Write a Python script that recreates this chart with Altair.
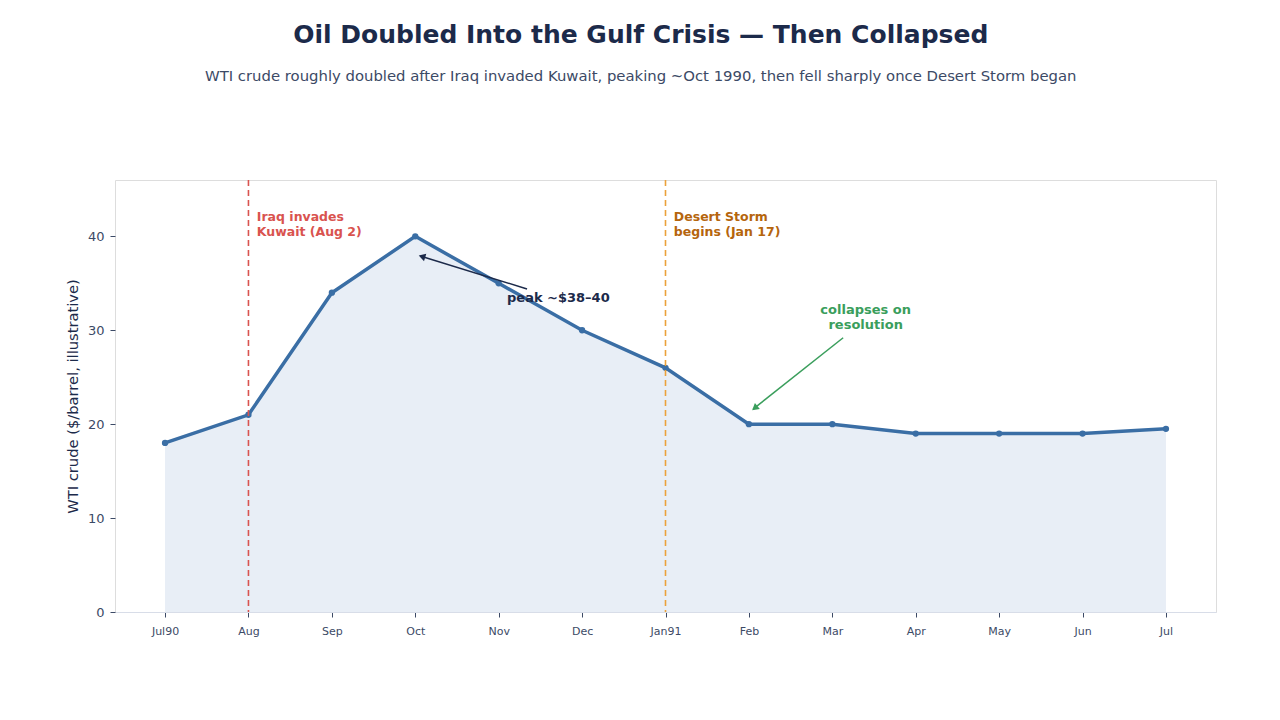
import altair as alt
import pandas as pd

months = ["Jul90", "Aug", "Sep", "Oct", "Nov", "Dec", "Jan91", "Feb", "Mar", "Apr", "May", "Jun", "Jul"]
prices = [18, 21, 34, 40, 35, 30, 26, 20, 20, 19, 19, 19, 19.5]

events_x = [1, 6]
events_color = ["#d9534f", "#eba13a"]
event_labels = ["Iraq invades\nKuwait (Aug 2)", "Desert Storm\nbegins (Jan 17)"]
event_label_colors = ["#d9534f", "#b5650d"]

peak_text = "peak ~$38–40"
collapse_text = "collapses on\nresolution"

df = pd.DataFrame({"idx": list(range(len(months))), "month": months, "price": prices})

label_expr = "[" + ",".join(f"'{m}'" for m in months) + "][datum.value]"

xscale = alt.Scale(domain=[-0.6, 12.6], nice=False, zero=False)
yscale = alt.Scale(domain=[0, 46], nice=False)

xenc = alt.X("idx:Q", scale=xscale, title=None,
             axis=alt.Axis(values=list(range(13)), labelExpr=label_expr, grid=False,
                           domain=True, domainColor="#d8dde8", tickColor="#3c4a66", tickSize=5,
                           labelColor="#3c4a66", labelFontSize=11, labelPadding=8,
                           labelFont="DejaVu Sans"))
yenc = alt.Y("price:Q", scale=yscale, title="WTI crude ($/barrel, illustrative)",
             axis=alt.Axis(values=[0, 10, 20, 30, 40], grid=False, domain=False,
                           tickColor="#3c4a66", tickSize=5, labelColor="#3c4a66",
                           labelFontSize=13, labelPadding=6, labelFont="DejaVu Sans",
                           titleFont="DejaVu Sans", titleFontSize=14.7, titleFontWeight="normal",
                           titleColor="#1c2a4a", titlePadding=7))

base = alt.Chart(df)

area = base.mark_area(color="#e8eef6").encode(x=xenc, y=yenc)
line = base.mark_line(color="#3a6ea5", strokeWidth=3.5).encode(x="idx:Q", y="price:Q")
pts = base.mark_point(color="#3a6ea5", filled=True, size=40, opacity=1).encode(x="idx:Q", y="price:Q")

ev = pd.DataFrame({"x": events_x, "c": events_color, "label": event_labels, "lc": event_label_colors,
                   "tx": [1.10, 6.10], "ty": [42.75, 42.75]})
rules = alt.Chart(ev).mark_rule(strokeDash=[6, 4], strokeWidth=1.6).encode(
    x="x:Q", color=alt.Color("c:N", scale=None))
ev_text = alt.Chart(ev).mark_text(align="left", baseline="top", fontSize=12.5, fontWeight="bold",
                                  font="DejaVu Sans", lineBreak="\n", lineHeight=15).encode(
    x="tx:Q", y="ty:Q", text="label:N", color=alt.Color("lc:N", scale=None))

peak_df = pd.DataFrame({"x": [4.10], "y": [33.4], "t": [peak_text]})
peak_lbl = alt.Chart(peak_df).mark_text(align="left", baseline="middle", fontSize=13, fontWeight="bold",
                                        font="DejaVu Sans", color="#1c2a4a").encode(x="x:Q", y="y:Q", text="t:N")

col_df = pd.DataFrame({"x": [8.40], "y": [32.75], "t": [collapse_text]})
col_lbl = alt.Chart(col_df).mark_text(align="center", baseline="top", fontSize=13, fontWeight="bold",
                                      font="DejaVu Sans", color="#3a9e5c", lineBreak="\n", lineHeight=15).encode(
    x="x:Q", y="y:Q", text="t:N")

arrows = pd.DataFrame({
    "id": ["a", "a", "b", "b"],
    "ord": [0, 1, 0, 1],
    "x": [4.34, 3.06, 8.13, 7.05],
    "y": [34.4, 37.9, 29.2, 21.6],
    "c": ["#1c2a4a", "#1c2a4a", "#3a9e5c", "#3a9e5c"],
})
arrow_lines = alt.Chart(arrows).mark_line(strokeWidth=1.5).encode(
    x="x:Q", y="y:Q", detail="id:N", order="ord:Q", color=alt.Color("c:N", scale=None))
heads = pd.DataFrame({"x": [3.08, 7.07], "y": [37.85, 21.7], "ang": [287, 231],
                      "c": ["#1c2a4a", "#3a9e5c"]})
arrow_heads = alt.Chart(heads).mark_point(shape="triangle-up", filled=True, size=60, opacity=1).encode(
    x="x:Q", y="y:Q", angle=alt.Angle("ang:Q", scale=None), color=alt.Color("c:N", scale=None))

chart = alt.layer(area, line, pts, rules, ev_text, peak_lbl, col_lbl, arrow_lines, arrow_heads).properties(
    width=1101, height=432,
    title=alt.TitleParams(
        text="Oil Doubled Into the Gulf Crisis — Then Collapsed",
        subtitle="WTI crude roughly doubled after Iraq invaded Kuwait, peaking ~Oct 1990, then fell sharply once Desert Storm began",
        font="DejaVu Sans", fontSize=25, fontWeight="bold", color="#1c2a4a",
        subtitleFont="DejaVu Sans", subtitleFontSize=14.85, subtitleColor="#3c4a66",
        subtitlePadding=21, anchor="middle", frame="bounds", offset=95,
    ),
    autosize=alt.AutoSizeParams(type="none"),
    padding={"left": 115, "top": 180, "right": 64, "bottom": 108},
).configure_view(stroke="#d8dde8", strokeWidth=1).configure(background="white")

chart.save("out.html", embed_options={"renderer": "svg", "actions": False})
